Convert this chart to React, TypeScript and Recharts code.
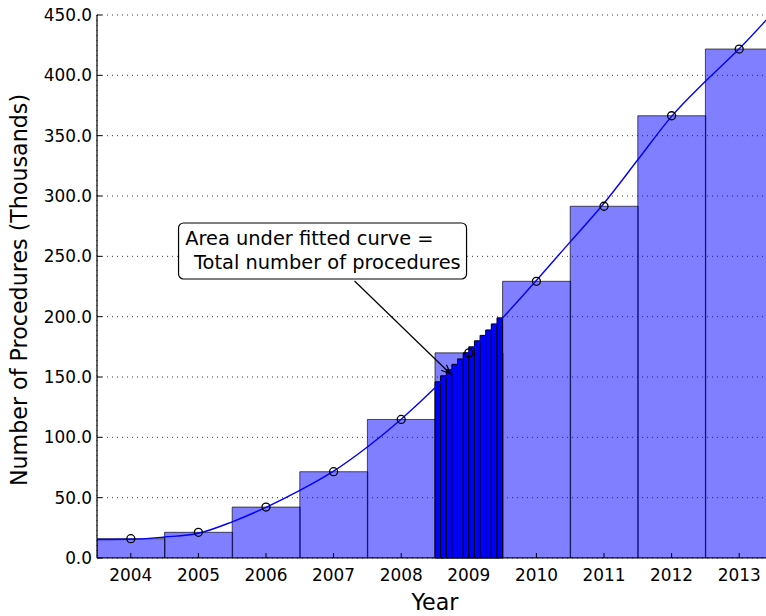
import React from 'react';
import {
  ComposedChart,
  Bar,
  Line,
  XAxis,
  YAxis,
  CartesianGrid,
  ReferenceArea,
  ReferenceDot,
  Label,
} from 'recharts';

// ---- data ----
const years = [2004, 2005, 2006, 2007, 2008, 2009, 2010, 2011, 2012, 2013];
const procedures = [16.0, 21.3, 42.2, 71.5, 114.8, 170.0, 229.3, 291.5, 366.5, 421.8];

const fitYears = [
  2003.5, 2004, 2004.5, 2005, 2005.5, 2006, 2006.5, 2007, 2007.5, 2008, 2008.5,
  2009, 2009.5, 2010, 2010.5, 2011, 2011.5, 2012, 2012.5, 2013, 2013.5,
];
const fitValues = [
  15.3, 15.5, 17.4, 20.5, 30.0, 42.0, 56.0, 72.0, 92.0, 115.0, 141.0,
  170.0, 199.0, 230.0, 262.0, 294.0, 330.0, 366.0, 395.0, 422.0, 452.0,
];

// narrow bins under the fitted curve during 2009
const binEdges = [
  2008.5, 2008.583, 2008.667, 2008.75, 2008.833, 2008.917, 2009.0,
  2009.083, 2009.167, 2009.25, 2009.333, 2009.417, 2009.5,
];
const binHeights = [146, 151, 156, 160.5, 165, 170, 175, 180, 184.5, 189, 194, 199];

const yTicks = [0, 50, 100, 150, 200, 250, 300, 350, 400, 450];
const gridYears = [
  2003.5, 2004.5, 2005.5, 2006.5, 2007.5, 2008.5, 2009.5, 2010.5, 2011.5, 2012.5, 2013.5,
];

const annotationLines = ['Area under fitted curve =', 'Total number of procedures'];
const annotationTip = { year: 2008.73, value: 152.5 };

const xLabel = 'Year';
const yLabel = 'Number of Procedures (Thousands)';

// ---- derived tables ----
const chartData = years.map((y, i) => ({ year: y, value: procedures[i] }));
const fitData = fitYears.map((y, i) => ({ year: y, fit: fitValues[i] }));
const bins = binHeights.map((h, i) => ({ x1: binEdges[i], x2: binEdges[i + 1], h }));

const FONT = "'DejaVu Sans', sans-serif";
const X_DOMAIN: [number, number] = [2003.5, 2013.5];

const Annotation = (props: any) => {
  const cx = props.cx;
  const cy = props.cy;
  if (cx == null || cy == null) return null;
  const bx = cx - 272;
  const by = cy - 151;
  const bw = 288;
  const bh = 56;
  const sx = cx - 96;
  const sy = cy - 93;
  const ang = Math.atan2(cy - sy, cx - sx);
  const L = 10;
  const w = 0.38;
  const p1 = [cx - L * Math.cos(ang - w), cy - L * Math.sin(ang - w)];
  const p2 = [cx - L * Math.cos(ang + w), cy - L * Math.sin(ang + w)];
  return (
    <g>
      <line x1={sx} y1={sy} x2={cx} y2={cy} stroke="#000" strokeWidth={1.2} />
      <polyline
        points={`${p1[0]},${p1[1]} ${cx},${cy} ${p2[0]},${p2[1]}`}
        fill="none"
        stroke="#000"
        strokeWidth={1.2}
      />
      <rect x={bx} y={by} width={bw} height={bh} rx={5} ry={5} fill="#fff" stroke="#000" strokeWidth={1.2} />
      <text x={bx + 6.7} y={by + 22} fontFamily={FONT} fontSize={19.4} fill="#000">
        {annotationLines[0]}
      </text>
      <text x={bx + 15.5} y={by + 46} fontFamily={FONT} fontSize={19.4} fill="#000">
        {annotationLines[1]}
      </text>
    </g>
  );
};

export default function App() {
  return (
    <div
      style={{
        position: 'fixed',
        left: 0,
        top: 0,
        width: 766,
        height: 616,
        overflow: 'hidden',
        background: '#fff',
      }}
    >
      <ComposedChart
        width={800}
        height={616}
        data={chartData}
        margin={{ top: 15, right: 27, bottom: 0, left: 0 }}
        barCategoryGap={0}
        barGap={0}
      >
        <CartesianGrid
          xAxisId="top"
          stroke="#222"
          strokeWidth={0.9}
          strokeDasharray="1 4"
        />
        <XAxis
          xAxisId="main"
          dataKey="year"
          type="number"
          domain={X_DOMAIN}
          allowDataOverflow
          ticks={years}
          interval={0}
          height={58}
          tickSize={-5}
          tickMargin={16}
          axisLine={{ stroke: '#000', strokeWidth: 1.2 }}
          tickLine={{ stroke: '#000' }}
          tick={{ fill: '#000', fontSize: 16.9, fontFamily: FONT }}
        >
          <Label
            content={(p: any) => {
              const vb = p.viewBox || {};
              return (
                <text
                  x={vb.x + vb.width / 2}
                  y={vb.y + 52}
                  textAnchor="middle"
                  fontFamily={FONT}
                  fontSize={22.2}
                  fill="#000"
                >
                  {xLabel}
                </text>
              );
            }}
          />
        </XAxis>
        <XAxis
          xAxisId="top"
          orientation="top"
          dataKey="year"
          type="number"
          domain={X_DOMAIN}
          allowDataOverflow
          ticks={gridYears}
          interval={0}
          height={0}
          tick={false}
          tickSize={-5}
          axisLine={{ stroke: '#000', strokeWidth: 1.2 }}
          tickLine={{ stroke: '#000' }}
        />
        <XAxis
          xAxisId="top2"
          orientation="top"
          dataKey="year"
          type="number"
          domain={X_DOMAIN}
          allowDataOverflow
          ticks={years}
          interval={0}
          height={0}
          tick={false}
          tickSize={-4}
          axisLine={false}
          tickLine={{ stroke: '#000' }}
        />
        <YAxis
          type="number"
          domain={[0, 450]}
          allowDataOverflow
          ticks={yTicks}
          interval={0}
          width={97}
          tickSize={-5}
          tickMargin={10}
          tickFormatter={(v: number) => v.toFixed(1)}
          axisLine={{ stroke: '#000', strokeWidth: 1.2 }}
          tickLine={{ stroke: '#000' }}
          tick={{ fill: '#000', fontSize: 16.9, fontFamily: FONT }}
        >
          <Label
            content={(p: any) => {
              const vb = p.viewBox || {};
              const tx = vb.x + 27;
              const ty = vb.y + vb.height / 2 + 3.5;
              return (
                <text
                  x={tx}
                  y={ty}
                  transform={`rotate(-90, ${tx}, ${ty})`}
                  textAnchor="middle"
                  fontFamily={FONT}
                  fontSize={22.2}
                  fill="#000"
                >
                  {yLabel}
                </text>
              );
            }}
          />
        </YAxis>

        <Bar
          xAxisId="main"
          dataKey="value"
          fill="#0000ff"
          fillOpacity={0.5}
          stroke="#000"
          strokeOpacity={0.65}
          strokeWidth={1}
          isAnimationActive={false}
        />

        {bins.map((b, i) => (
          <ReferenceArea
            key={i}
            xAxisId="main"
            x1={b.x1}
            x2={b.x2}
            y1={0}
            y2={b.h}
            fill="#0000ff"
            fillOpacity={1}
            stroke="#000"
            strokeWidth={1}
            strokeOpacity={1}
            ifOverflow="visible"
            zIndex={350}
          />
        ))}

        <Line
          xAxisId="top"
          data={fitData}
          dataKey="fit"
          type="monotone"
          stroke="#0000ff"
          strokeWidth={1.4}
          dot={false}
          activeDot={false}
          isAnimationActive={false}
        />
        <Line
          xAxisId="main"
          dataKey="value"
          stroke="none"
          dot={{ r: 4, fill: 'none', stroke: '#000', strokeWidth: 1.3 }}
          activeDot={false}
          isAnimationActive={false}
        />

        <ReferenceDot
          xAxisId="main"
          x={annotationTip.year}
          y={annotationTip.value}
          r={0}
          ifOverflow="visible"
          zIndex={2100}
          shape={(p: any) => <Annotation {...p} />}
        />
      </ComposedChart>
    </div>
  );
}
